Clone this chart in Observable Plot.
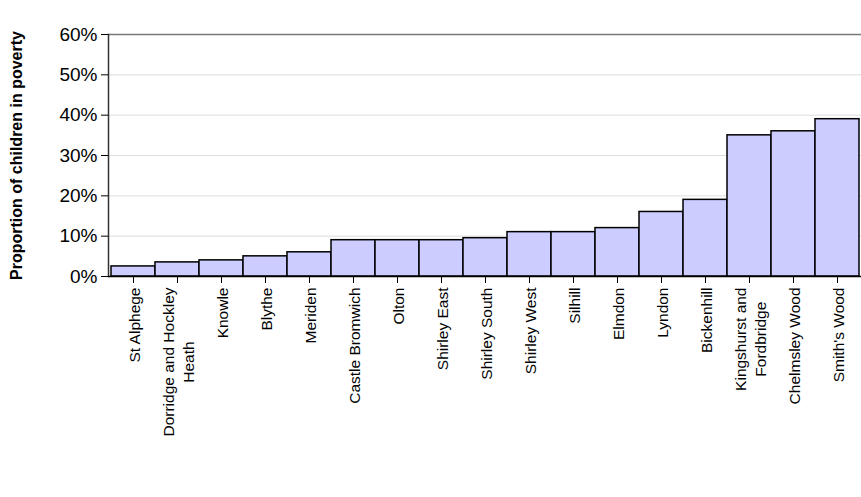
<!DOCTYPE html>
<html>
<head>
<meta charset="utf-8">
<script src="https://cdn.jsdelivr.net/npm/d3@7"></script>
<script src="https://cdn.jsdelivr.net/npm/@observablehq/plot@0.6"></script>
<style>
  body { margin: 0; background: white; }
</style>
</head>
<body>
<div id="chart"></div>
<script>
// wards, sorted by proportion
const wards = ["St Alphege", "Dorridge and Hockley\nHeath", "Knowle", "Blythe", "Meriden",
  "Castle Bromwich", "Olton", "Shirley East", "Shirley South", "Shirley West", "Silhill",
  "Elmdon", "Lyndon", "Bickenhill", "Kingshurst and\nFordbridge", "Chelmsley Wood", "Smith's Wood"]
const poverty = [0.025, 0.035, 0.04, 0.05, 0.06, 0.09, 0.09, 0.09, 0.095, 0.11, 0.11,
  0.12, 0.16, 0.19, 0.35, 0.36, 0.39]
const yTicks = [0, 0.1, 0.2, 0.3, 0.4, 0.5, 0.6]

const data = wards.map((w, i) => ({ward: w, value: poverty[i]}))

let chart = Plot.plot({
  width: 861,
  height: 497,
  marginLeft: 108,
  marginTop: 34,
  marginRight: 0,
  marginBottom: 221,
  style: {fontFamily: "Liberation Sans, Arial, sans-serif", fontSize: "16px", color: "black"},
  x: {domain: wards, padding: 0},
  y: {domain: [0, 0.6]},
  marks: [
    Plot.ruleY(yTicks.slice(1, -1), {stroke: "#ddd", strokeWidth: 1}),
    Plot.ruleY([0.6], {stroke: "#777", strokeWidth: 1.5}),
    Plot.barY(data, {x: "ward", y: "value", fill: "#ccccff", stroke: "black", strokeWidth: 1.5}),
    Plot.frame({anchor: "left", stroke: "#333", strokeWidth: 1.5}),
    Plot.ruleY([0], {stroke: "black", strokeWidth: 1.5}),
    Plot.axisY({
      ticks: yTicks,
      tickFormat: d => Math.round(d * 100) + "%",
      tickSize: 7,
      tickPadding: 4,
      fontSize: 19,
      label: "Proportion of children in poverty",
      labelAnchor: "center",
      labelArrow: "none",
      labelOffset: 98
    }),
    Plot.axisX({
      tickRotate: -90,
      tickSize: 7,
      tickPadding: 4,
      fontSize: 15.5,
      lineHeight: 1.3,
      label: null
    })
  ]
})

d3.select(chart).selectAll("[aria-label='y-axis label'] text")
  .style("font-weight", "bold").style("font-size", "16px")

d3.select('#chart').append(() => chart)

// centre the lines of two-line labels against each other
d3.select(chart).selectAll("[aria-label='x-axis tick label'] text").each(function () {
  const spans = d3.select(this).selectAll("tspan")
  if (spans.size() < 2) return
  const x0 = +(this.getAttribute("x") || 0)
  const len = d3.max(spans.nodes(), n => n.getComputedTextLength())
  d3.select(this).attr("text-anchor", "middle")
  spans.attr("x", x0 - len / 2)
})
</script>
</body>
</html>
